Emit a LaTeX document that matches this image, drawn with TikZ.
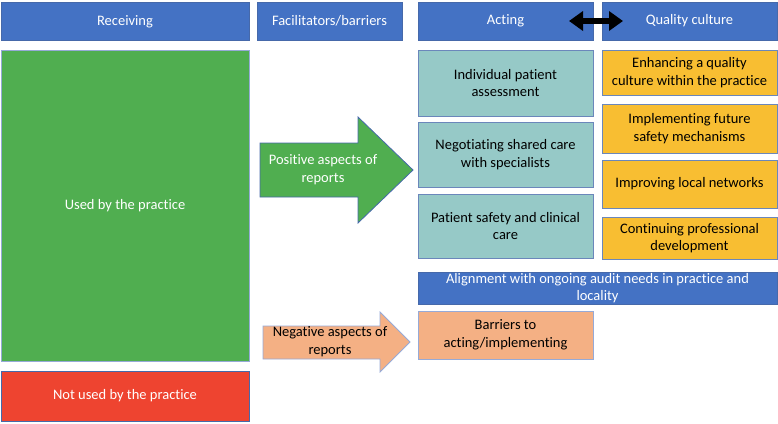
\documentclass[tikz,border=0pt]{standalone}
\usepackage{fontspec}
\setmainfont[Ligatures={NoCommon}]{Carlito}
\usetikzlibrary{arrows.meta}
\definecolor{hdrblue}{RGB}{68,114,196}
\definecolor{edgeblue}{RGB}{70,105,170}
\definecolor{lightedge}{RGB}{150,170,215}
\definecolor{usedgreen}{RGB}{80,174,80}
\definecolor{notred}{RGB}{238,68,48}
\definecolor{tealbox}{RGB}{150,201,199}
\definecolor{yellowbox}{RGB}{248,190,50}
\definecolor{salmonbox}{RGB}{244,176,132}
\begin{document}
\begin{tikzpicture}[x=1pt, y=-1pt,
    every node/.style={font=\fontsize{14.5}{17.7}\selectfont, align=center, inner sep=1pt},
    hdr/.style={draw=edgeblue, line width=0.8pt, fill=hdrblue, text=white, minimum height=38pt},
    actbox/.style={draw=edgeblue!80, line width=0.8pt, fill=tealbox, minimum width=175pt},
    qualbox/.style={draw=edgeblue!80, line width=0.8pt, fill=yellowbox, minimum width=175pt}]
    \useasboundingbox (0,0) rectangle (778,423);
    % column headers
    \node[hdr, minimum width=248pt] (recv) at (125,21.5) {Receiving};
    \node[hdr, minimum width=145pt] (fac) at (329.5,21) {Facilitators/barriers};
    \node[hdr, minimum width=175pt] (act) at (505.5,21) {Acting};
    \node[hdr, minimum width=175pt] (qual) at (689.5,21) {Quality culture};
    \coordinate (dl) at (569,21);
    \coordinate (dr) at (623,21);
    \draw[line width=6pt, {Triangle[length=14pt,width=19pt]}-{Triangle[length=14pt,width=19pt]}] (dl) -- (dr);
    % receiving
    \node[draw=lightedge, line width=0.8pt, fill=usedgreen, text=white, minimum width=248pt, minimum height=311pt] (used) at (125,205.5) {Used by the practice};
    \node[draw=edgeblue, line width=0.8pt, fill=notred, text=white, minimum width=248pt, minimum height=50pt] (notused) at (125,396) {Not used by the practice};
    % facilitators / barriers
    \draw[draw=edgeblue, line width=0.8pt, fill=usedgreen] (260,143) -- (358,143) -- (358,117) -- (413,170) -- (358,223) -- (358,197) -- (260,197) -- cycle;
    \node[text=white] (posrep) at (323,170) {Positive aspects of\\reports};
    \draw[draw=lightedge, line width=0.8pt, fill=salmonbox] (263,326) -- (380,326) -- (380,312) -- (410,342) -- (380,372) -- (380,359) -- (263,359) -- cycle;
    \node (negrep) at (330,342) {Negative aspects of\\reports};
    % acting
    \node[actbox, minimum height=66pt] (assess) at (505.5,83) {Individual patient\\assessment};
    \node[actbox, minimum height=65pt] (shared) at (505.5,154.5) {Negotiating shared care\\with specialists};
    \node[actbox, minimum height=64pt] (safety) at (505.5,226) {Patient safety and clinical\\care};
    \node[draw=lightedge, line width=0.8pt, fill=salmonbox, minimum width=175pt, minimum height=48pt] (barr) at (505.5,335) {Barriers to\\acting/implementing};
    % quality culture
    \node[qualbox, minimum height=45pt] (enh) at (689.5,72.5) {Enhancing a quality\\culture within the practice};
    \node[qualbox, minimum height=49pt] (impl) at (689.5,128.5) {Implementing future\\safety mechanisms};
    \node[qualbox, minimum height=48pt] (netw) at (689.5,184) {Improving local networks};
    \node[qualbox, minimum height=42pt] (cpd) at (689.5,238) {Continuing professional\\development};
    \node[draw=edgeblue, line width=0.8pt, fill=hdrblue, text=white, minimum width=359pt, minimum height=32pt, inner sep=0pt] (align) at (597.5,288) {Alignment with ongoing audit needs in practice and\\locality};
\end{tikzpicture}
\end{document}
